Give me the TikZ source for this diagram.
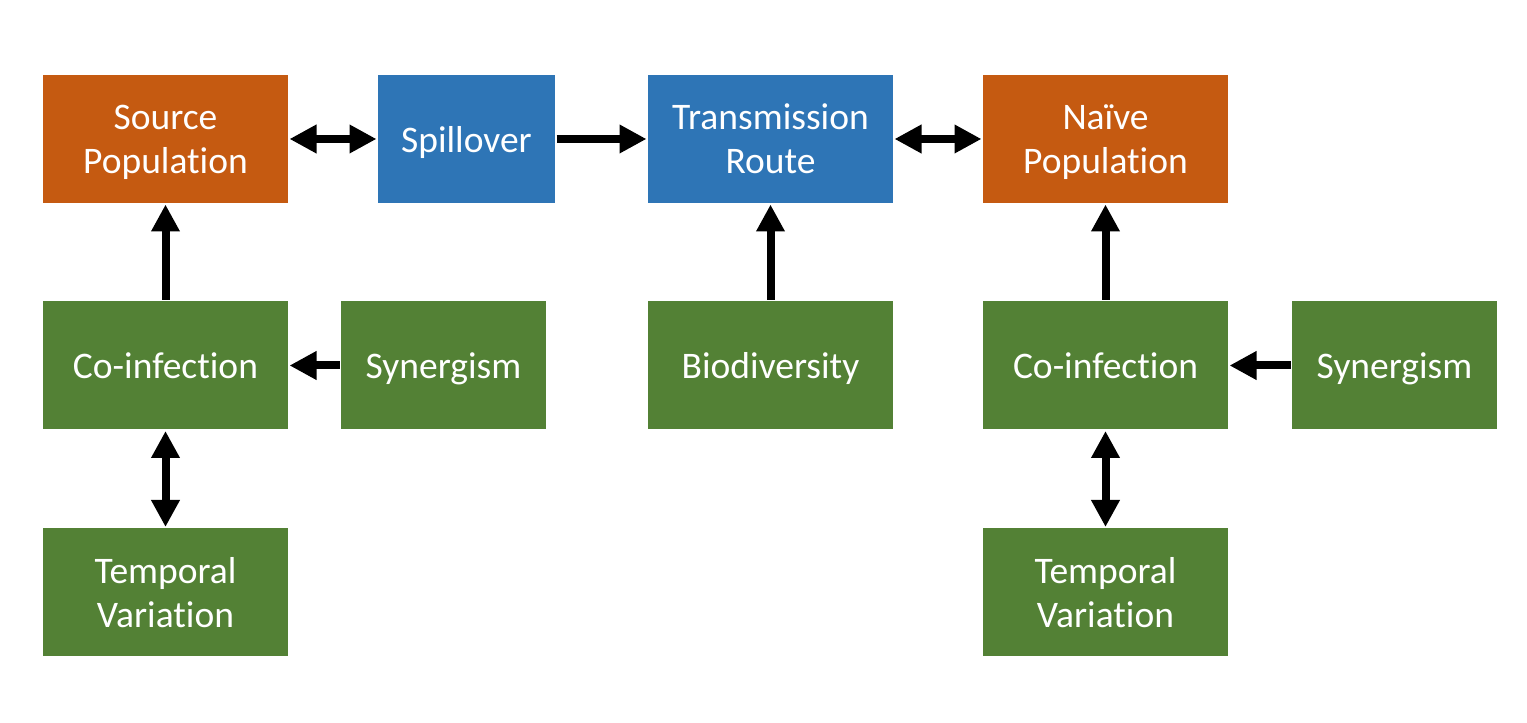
\documentclass[tikz,border=0pt]{standalone}
\usepackage{fontspec}
\setmainfont{Carlito}[Ligatures=NoCommon]
\usepackage{xcolor}
\usetikzlibrary{calc, arrows.meta}

\definecolor{hostorange}{HTML}{C55A11}
\definecolor{routeblue}{HTML}{2E75B6}
\definecolor{factorgreen}{HTML}{538135}

\tikzset{
  boxnode/.style={rectangle, inner sep=0pt, outer sep=1.5pt, align=center,
    text=white, text depth=0pt, minimum height=128pt, font=\fontsize{37.5}{44}\selectfont},
  hostbox/.style={boxnode, fill=hostorange},
  routebox/.style={boxnode, fill=routeblue},
  factorbox/.style={boxnode, fill=factorgreen},
  link/.style={line width=8pt, -{Triangle[length=27pt,width=27pt]}},
  twolink/.style={line width=8pt, {Triangle[length=27pt,width=27pt]}-{Triangle[length=27pt,width=27pt]}}
}

\begin{document}
\begin{tikzpicture}[x=1pt, y=1pt]

  % Canvas
  \useasboundingbox (0,0) rectangle (1527,723);

  % Top row
  \node (source) at (165.5,584) [hostbox, minimum width=245pt] {Source\\Population};
  \node (spill) at (466.5,584) [routebox, minimum width=177pt] {Spillover};
  \node (route) at (770.5,584) [routebox, minimum width=245pt] {Transmission\\Route};
  \node (naive) at (1105.5,584) [hostbox, minimum width=245pt] {Naïve\\Population};

  % Middle row
  \node (coinfL) at (165.5,357.5) [factorbox, minimum width=245pt] {Co-infection};
  \node (synL) at (443.5,357.5) [factorbox, minimum width=205pt] {Synergism};
  \node (biodiv) at (770.5,357.5) [factorbox, minimum width=245pt] {Biodiversity};
  \node (coinfR) at (1105.5,357.5) [factorbox, minimum width=245pt] {Co-infection};
  \node (synR) at (1394.5,357.5) [factorbox, minimum width=205pt] {Synergism};

  % Bottom row
  \node (tempL) at (165.5,130.5) [factorbox, minimum width=245pt] {Temporal\\Variation};
  \node (tempR) at (1105.5,130.5) [factorbox, minimum width=245pt] {Temporal\\Variation};

  % Arrows along the top
  \draw[twolink] (source) -- (spill);
  \draw[link] (spill) -- (route);
  \draw[twolink] (route) -- (naive);

  % Arrows into the top row
  \draw[link] (coinfL) -- (source);
  \draw[link] (biodiv) -- (route);
  \draw[link] (coinfR) -- (naive);

  % Synergism and temporal links
  \draw[link] (synL) -- (coinfL);
  \draw[link] (synR) -- (coinfR);
  \draw[twolink] (coinfL) -- (tempL);
  \draw[twolink] (coinfR) -- (tempR);

\end{tikzpicture}
\end{document}
